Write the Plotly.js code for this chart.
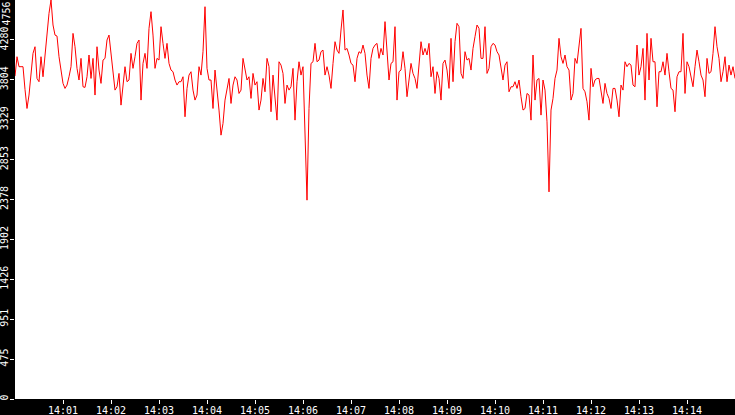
<!DOCTYPE html>
<html>
<head>
<meta charset="utf-8">
<script src="https://cdn.plot.ly/plotly-3.0.1.min.js"></script>
<style>
  html, body { margin: 0; padding: 0; background: #000; }
  #chart { width: 735px; height: 415px; }
</style>
</head>
<body>
<div id="chart"></div>
<script>
// samples every 2.5 s starting 14:00:00, split in 2.5 min blocks
var block1 = [3849, 4080, 3961, 3961, 3961, 3690, 3463, 3623, 3881, 4120, 4199, 3821, 3782, 4080, 3841, 4120, 4358, 4597, 4756, 4458,
              4338, 4326, 4080, 3941, 3762, 3702, 3742, 3841, 3961, 4358, 4199, 3941, 3802, 4060, 3722, 3714, 3841, 4100, 3821, 4060,
              3623, 4199, 3921, 3762, 4040, 4060, 4279, 4338, 4120, 3841, 3682, 3722, 3881, 3503, 3762, 3961, 3782, 3802, 4120, 3941];
var block2 = [4080, 4239, 4279, 3563, 4000, 4120, 3941, 4418, 4617, 4338, 3941, 4060, 4040, 4438, 4239, 4060, 4239, 4000, 3921, 3901,
              3802, 3742, 3782, 3782, 3841, 3364, 3702, 3861, 3901, 3682, 3563, 3623, 3961, 3861, 4140, 4676, 3941, 3802, 3802, 3463,
              3921, 3702, 3444, 3145, 3285, 3563, 3722, 3821, 3523, 3742, 3841, 3802, 3642, 3682, 4060, 3901, 3802, 3841, 3583, 3881];
var block3 = [3742, 3782, 3444, 3563, 3821, 3662, 4060, 3961, 3424, 3861, 3603, 3324, 4020, 3980, 3881, 3523, 3742, 3682, 3722, 3941,
              3324, 3782, 4020, 3861, 3961, 3046, 2370, 3463, 4000, 4020, 4239, 4020, 4040, 4140, 4159, 3861, 3961, 3861, 3702, 4000,
              4259, 4159, 4120, 4398, 4637, 4159, 4179, 4100, 4000, 3980, 3782, 4060, 4140, 4120, 4219, 4120, 3861, 3702, 4060, 4179];
var block4 = [4219, 4239, 4060, 4179, 4100, 4498, 4159, 3802, 4000, 4020, 4438, 3563, 3901, 3921, 4140, 3941, 3603, 3841, 4000, 3881,
              3821, 3702, 3941, 4259, 4100, 4179, 4100, 4239, 3841, 3961, 3642, 3901, 3821, 3563, 4000, 4040, 3921, 3702, 4299, 3782,
              4259, 4478, 4438, 3881, 3821, 4140, 4040, 4060, 3921, 4179, 4319, 4458, 4418, 4060, 4060, 4438, 3881, 3941, 4199, 4239];
var block5 = [4219, 4140, 4100, 3941, 3802, 3980, 4020, 3662, 3722, 3722, 3782, 3702, 3802, 3603, 3444, 3463, 3642, 3623, 3324, 4100,
              3563, 3802, 3821, 3384, 3802, 3682, 3304, 2469, 3444, 3583, 3821, 3921, 4299, 4080, 4000, 4100, 3961, 3921, 3563, 3642,
              4060, 4000, 4199, 4418, 3702, 3662, 3543, 3324, 3941, 3722, 3802, 3821, 3821, 3682, 3523, 3762, 3642, 3583, 3463, 3702];
var block6 = [3702, 3563, 3364, 3742, 3682, 4020, 3961, 4000, 3980, 3742, 3722, 4219, 3861, 3961, 4179, 3563, 4358, 3802, 4299, 4020,
              4020, 3483, 3901, 3901, 4020, 3861, 4120, 3901, 3702, 3682, 3424, 3841, 3901, 3901, 4358, 3642, 4020, 3961, 3841, 3722,
              3961, 4159, 4020, 3861, 3802, 3603, 4060, 3881, 3901, 4120, 4438, 4199, 4060, 3782, 3901, 4080, 3782, 3980, 3861, 3961,
              3821];

var startTime = '2024-01-01 14:00:00';
var endTime = '2024-01-01 14:15:00';
var stepSeconds = 2.5;
var yMax = 4756;
var yTickVals = [0, 475.6, 951.2, 1426.8, 1902.4, 2378, 2853.6, 3329.2, 3804.8, 4280.4];
var yTickText = ['0', '475', '951', '1426', '1902', '2378', '2853', '3329', '3804', '4280'];
var xTickText = ['14:01', '14:02', '14:03', '14:04', '14:05', '14:06', '14:07', '14:08',
                 '14:09', '14:10', '14:11', '14:12', '14:13', '14:14', '14:15'];

var values = block1.concat(block2, block3, block4, block5, block6);

function pad(n) { return (n < 10 ? '0' : '') + n; }
function stamp(sec) {
    var m = Math.floor(sec / 60), s = sec - m * 60;
    var whole = Math.floor(s), ms = Math.round((s - whole) * 1000);
    return '2024-01-01 14:' + pad(m) + ':' + pad(whole) + '.' + String(ms).padStart(3, '0');
}
var times = values.map(function (v, i) { return stamp(i * stepSeconds); });
var xTickVals = xTickText.map(function (t) { return '2024-01-01 ' + t + ':00'; });

var tickFont = { family: 'DejaVu Sans Mono', size: 10, color: '#ffffff' };

Plotly.newPlot('chart', [{
    x: times,
    y: values,
    type: 'scatter',
    mode: 'lines',
    line: { color: '#ff0000', width: 1 },
    hoverinfo: 'skip'
}], {
    width: 735,
    height: 415,
    margin: { l: 15, r: 0, t: 0, b: 16, pad: 0 },
    paper_bgcolor: '#000000',
    plot_bgcolor: '#ffffff',
    showlegend: false,
    xaxis: {
        type: 'date',
        range: [startTime, endTime],
        tickvals: xTickVals,
        ticktext: xTickText,
        ticks: 'outside',
        ticklen: 4,
        tickcolor: '#ffffff',
        tickfont: tickFont,
        ticklabelstandoff: -2,
        showgrid: false,
        zeroline: false,
        showline: false
    },
    yaxis: {
        range: [0, yMax],
        tickvals: yTickVals,
        ticktext: yTickText,
        tickangle: -90,
        ticks: 'outside',
        ticklen: 4,
        tickcolor: '#ffffff',
        tickfont: tickFont,
        ticklabelstandoff: -2,
        showgrid: false,
        zeroline: false,
        showline: false
    },
    annotations: [{
        text: String(yMax),
        textangle: -90,
        font: tickFont,
        showarrow: false,
        xref: 'paper', x: 0, xanchor: 'right', xshift: -3,
        yref: 'paper', y: 1, yanchor: 'top', yshift: -1,
        borderpad: 0
    }]
}, { staticPlot: true });
</script>
</body>
</html>
